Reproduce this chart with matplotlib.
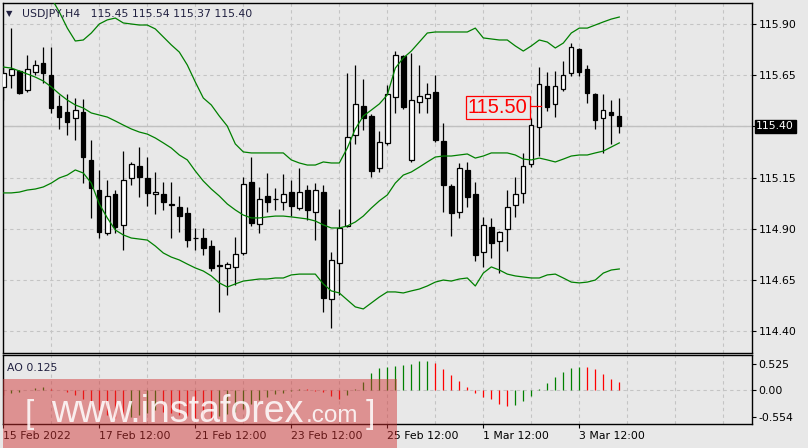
import matplotlib
matplotlib.use("Agg")
import matplotlib.pyplot as plt
import matplotlib.transforms as mtransforms
import numpy as np

# USDJPY H4 candles (open, high, low, close)
opens = np.array([115.593, 115.651, 115.671, 115.578, 115.666, 115.710, 115.651, 115.500, 115.471, 115.441,
                  115.471, 115.237, 115.090, 114.880, 115.071, 114.920, 115.149, 115.207, 115.149, 115.071,
                  115.071, 115.020, 115.007, 114.978, 114.858, 114.856, 114.817, 114.722, 114.710, 114.715,
                  114.783, 115.129, 114.924, 115.061, 115.048, 115.032, 115.080, 115.002, 115.090, 114.983,
                  115.080, 114.559, 114.734, 114.915, 115.359, 115.500, 115.451, 115.198, 115.320, 115.544,
                  115.744, 115.237, 115.520, 115.539, 115.568, 115.329, 115.110, 114.983, 115.188, 115.071,
                  114.788, 114.910, 114.841, 114.900, 115.017, 115.076, 115.217, 115.398, 115.598, 115.510,
                  115.583, 115.661, 115.778, 115.680, 115.559, 115.441, 115.471, 115.451])
highs = np.array([115.700, 115.880, 115.676, 115.749, 115.724, 115.788, 115.788, 115.554, 115.559, 115.539,
                  115.534, 115.334, 115.188, 115.139, 115.090, 115.280, 115.227, 115.300, 115.251, 115.178,
                  115.129, 115.129, 115.061, 115.007, 114.905, 114.905, 114.846, 114.798, 114.739, 114.861,
                  115.154, 115.251, 115.105, 115.173, 115.100, 115.168, 115.139, 115.198, 115.115, 115.124,
                  115.115, 114.788, 114.998, 115.661, 115.700, 115.632, 115.461, 115.378, 115.602, 115.768,
                  115.749, 115.759, 115.700, 115.612, 115.651, 115.417, 115.120, 115.222, 115.227, 115.129,
                  114.959, 114.954, 114.890, 115.090, 115.154, 115.271, 115.441, 115.690, 115.666, 115.671,
                  115.720, 115.807, 115.785, 115.700, 115.562, 115.559, 115.529, 115.539])
lows = np.array([115.529, 115.588, 115.559, 115.568, 115.651, 115.612, 115.466, 115.388, 115.359, 115.334,
                 115.124, 114.954, 114.856, 114.871, 114.880, 114.798, 115.115, 115.056, 115.012, 114.973,
                 114.993, 114.856, 114.885, 114.812, 114.798, 114.773, 114.695, 114.495, 114.578, 114.627,
                 114.773, 114.915, 114.880, 114.983, 114.993, 114.993, 114.963, 114.993, 114.944, 114.846,
                 114.495, 114.417, 114.578, 114.910, 115.315, 115.383, 115.154, 115.178, 115.310, 115.466,
                 115.485, 115.227, 115.466, 115.466, 115.324, 114.983, 114.866, 114.954, 115.007, 114.744,
                 114.715, 114.759, 114.685, 114.793, 114.959, 115.027, 115.202, 115.256, 115.476, 115.446,
                 115.573, 115.646, 115.646, 115.515, 115.388, 115.271, 115.315, 115.368])
closes = np.array([115.661, 115.680, 115.563, 115.680, 115.700, 115.661, 115.490, 115.446, 115.422, 115.480,
                   115.251, 115.100, 114.885, 115.061, 114.910, 115.139, 115.217, 115.154, 115.076, 115.080,
                   115.032, 115.015, 114.963, 114.846, 114.854, 114.807, 114.710, 114.718, 114.729, 114.778,
                   115.120, 114.929, 115.046, 115.032, 115.044, 115.071, 115.012, 115.080, 114.993, 115.090,
                   114.563, 114.749, 114.905, 115.349, 115.510, 115.441, 115.183, 115.324, 115.559, 115.749,
                   115.495, 115.529, 115.549, 115.559, 115.334, 115.115, 114.978, 115.198, 115.056, 114.773,
                   114.920, 114.832, 114.885, 115.007, 115.071, 115.207, 115.407, 115.607, 115.495, 115.598,
                   115.651, 115.788, 115.666, 115.563, 115.432, 115.480, 115.456, 115.400])

# Bollinger bands
bb_upper = np.array([116.212, 116.188, 116.163, 116.139, 116.115, 116.076, 116.027, 115.959, 115.880, 115.817,
                     115.822, 115.856, 115.900, 115.920, 115.929, 115.905, 115.900, 115.895, 115.895, 115.876,
                     115.837, 115.798, 115.763, 115.700, 115.617, 115.539, 115.505, 115.451, 115.402, 115.315,
                     115.276, 115.271, 115.271, 115.271, 115.271, 115.271, 115.237, 115.222, 115.212, 115.212,
                     115.227, 115.222, 115.222, 115.295, 115.388, 115.451, 115.480, 115.510, 115.554, 115.685,
                     115.734, 115.768, 115.812, 115.856, 115.861, 115.861, 115.861, 115.861, 115.861, 115.880,
                     115.832, 115.827, 115.822, 115.822, 115.793, 115.768, 115.793, 115.822, 115.812, 115.783,
                     115.807, 115.856, 115.880, 115.880, 115.895, 115.910, 115.924, 115.934])
bb_middle = np.array([115.690, 115.685, 115.671, 115.656, 115.641, 115.622, 115.593, 115.559, 115.529, 115.505,
                      115.490, 115.466, 115.456, 115.446, 115.427, 115.407, 115.388, 115.373, 115.363, 115.344,
                      115.320, 115.295, 115.261, 115.237, 115.183, 115.134, 115.095, 115.061, 115.022, 114.993,
                      114.968, 114.954, 114.954, 114.959, 114.963, 114.963, 114.959, 114.954, 114.949, 114.939,
                      114.920, 114.905, 114.905, 114.915, 114.934, 114.963, 115.002, 115.037, 115.066, 115.124,
                      115.163, 115.178, 115.202, 115.227, 115.251, 115.256, 115.256, 115.261, 115.266, 115.246,
                      115.256, 115.271, 115.271, 115.271, 115.261, 115.241, 115.237, 115.246, 115.237, 115.227,
                      115.241, 115.256, 115.261, 115.261, 115.271, 115.280, 115.300, 115.320])
bb_lower = np.array([115.076, 115.076, 115.080, 115.090, 115.095, 115.105, 115.124, 115.149, 115.163, 115.188,
                     115.173, 115.124, 115.022, 114.954, 114.895, 114.871, 114.856, 114.851, 114.846, 114.817,
                     114.783, 114.763, 114.749, 114.729, 114.710, 114.695, 114.671, 114.637, 114.617, 114.632,
                     114.646, 114.651, 114.656, 114.656, 114.661, 114.661, 114.676, 114.680, 114.680, 114.680,
                     114.632, 114.598, 114.588, 114.554, 114.520, 114.510, 114.539, 114.568, 114.593, 114.593,
                     114.588, 114.598, 114.607, 114.622, 114.641, 114.651, 114.646, 114.656, 114.661, 114.622,
                     114.685, 114.715, 114.700, 114.680, 114.671, 114.666, 114.661, 114.661, 114.676, 114.680,
                     114.661, 114.641, 114.637, 114.641, 114.651, 114.685, 114.700, 114.705])

# Awesome Oscillator
ao_values = np.array([-0.11, -0.07, -0.05, -0.01, 0.04, 0.05, 0.02, -0.01, -0.05, -0.11,
                      -0.20, -0.29, -0.41, -0.51, -0.59, -0.63, -0.56, -0.51, -0.48, -0.42,
                      -0.45, -0.48, -0.52, -0.55, -0.58, -0.60, -0.61, -0.55, -0.50, -0.45,
                      -0.40, -0.30, -0.22, -0.15, -0.10, -0.06, -0.03, 0.02, 0.01, -0.02,
                      -0.05, -0.14, -0.20, -0.12, 0.02, 0.16, 0.33, 0.44, 0.47, 0.48,
                      0.50, 0.525, 0.585, 0.59, 0.55, 0.42, 0.30, 0.18, 0.055, -0.07,
                      -0.145, -0.19, -0.295, -0.34, -0.31, -0.24, -0.14, 0.01, 0.14, 0.26,
                      0.355, 0.44, 0.465, 0.46, 0.42, 0.31, 0.21, 0.15])

price_ticks = [115.90, 115.65, 115.40, 115.15, 114.90, 114.65, 114.40]
ao_ticks = [0.525, 0.0, -0.554]
ao_tick_labels = ["0.525", "0.00", "-0.554"]
date_pos = [0, 12, 24, 36, 48, 60, 72]
date_labels = ["15 Feb 2022", "17 Feb 12:00", "21 Feb 12:00", "23 Feb 12:00",
               "25 Feb 12:00", "1 Mar 12:00", "3 Mar 12:00"]
last_price = 115.40
marked_price = 115.50

plt.rcParams['font.family'] = ['DejaVu Sans']
bg = '#e8e8e8'
grid_col = '#c4c4c4'
W, H = 808, 448

fig = plt.figure(figsize=(W / 100, H / 100), dpi=100, facecolor=bg)
ax = fig.add_axes([2.7 / W, 1 - 353 / H, 749 / W, 350 / H], facecolor=bg)
ax_ao = fig.add_axes([2.7 / W, 1 - 424 / H, 749 / W, 69 / H], facecolor=bg, sharex=ax)

x = np.arange(len(opens))
xmin, xmax = -0.075, 93.55

# grid
for a in (ax, ax_ao):
    for gx in range(6, 94, 6):
        a.axvline(gx, color=grid_col, lw=0.8, ls=(0, (3, 3)), zorder=0)
for p in price_ticks:
    ax.axhline(p, color=grid_col, lw=0.8, ls=(0, (3, 3)), zorder=0)
ax.axhline(last_price, color='#c0c0c0', lw=1, zorder=0)
ax_ao.axhline(0, color=grid_col, lw=0.8, ls=(0, (3, 3)), zorder=0)

# candles
up = closes >= opens
body_bot = np.minimum(opens, closes)
body_h = np.maximum(np.abs(closes - opens), 0.002)
ax.vlines(x, lows, highs, color='black', lw=0.9, zorder=2)
ax.bar(x[up], body_h[up], bottom=body_bot[up], width=0.55, color='white',
       edgecolor='black', lw=0.9, zorder=3)
ax.bar(x[~up], body_h[~up], bottom=body_bot[~up], width=0.55, color='black',
       edgecolor='black', lw=0.9, zorder=3)

# bands
for band in (bb_upper, bb_middle, bb_lower):
    ax.plot(x, band, color='#008000', lw=0.9, zorder=4)

ax.set_xlim(xmin, xmax)
ax.set_ylim(114.2951, 116.0024)
ax.yaxis.tick_right()
ax.set_yticks(price_ticks)
# the 115.40 slot is covered by the current-price box
ax.set_yticklabels(["" if p == last_price else f"{p:.2f}" for p in price_ticks])
ax.tick_params(axis='y', direction='out', length=3, width=0.8, pad=2, labelsize=7.8, colors='black')
ax.tick_params(axis='x', length=0, labelbottom=False)

# current price label
trans = mtransforms.blended_transform_factory(ax.transAxes, ax.transData)
ax.text(1.006, last_price, "115.40", transform=trans, ha='left', va='center', fontsize=7.8,
        color='white', bbox=dict(facecolor='black', edgecolor='black', pad=1.2), zorder=10)

# red price marker 115.50
ax.plot([65.7, 67.2], [marked_price, marked_price], color='red', lw=0.9, zorder=6)
ax.text(61.8, marked_price - 0.005, "115.50", ha='center', va='center', fontsize=14.5,
        family=['Liberation Sans', 'DejaVu Sans'], color='red', zorder=7,
        bbox=dict(facecolor=bg, edgecolor='red', lw=0.9, pad=1.5))

# AO histogram
ao_prev = np.concatenate([[ao_values[0] + 0.01], ao_values[:-1]])
ao_cols = np.where(ao_values > ao_prev, '#008000', '#ff0000')
ax_ao.vlines(x, 0, ao_values, colors=ao_cols, lw=0.9, zorder=2)
ax_ao.set_ylim(-0.704, 0.708)
ax_ao.yaxis.tick_right()
ax_ao.set_yticks(ao_ticks)
ax_ao.set_yticklabels(ao_tick_labels)
ax_ao.tick_params(axis='y', direction='out', length=3, width=0.8, pad=2, labelsize=7.8, colors='black')
ax_ao.set_xticks(date_pos)
ax_ao.set_xticklabels(date_labels, ha='left')
ax_ao.tick_params(axis='x', direction='out', length=3, width=0.8, pad=2, labelsize=7.8, colors='black')

for a in (ax, ax_ao):
    for s in a.spines.values():
        s.set_color('black')
        s.set_linewidth(1)

# header texts
fig.text(6 / W, 1 - 16.5 / H, "\u25bc", fontsize=6, color='#202040', va='baseline')
fig.text(21.7 / W, 1 - 16.7 / H, "USDJPY,H4   115.45 115.54 115.37 115.40", fontsize=7.8,
         color='#202040', va='baseline')
fig.text(7 / W, 1 - 371 / H, "AO 0.125", fontsize=7.8, color='#202040', va='baseline')

# watermark
fig.patches.append(plt.Rectangle((3 / W, 0), 394 / W, 69 / H, transform=fig.transFigure,
                                 facecolor='#d23232', alpha=0.48, edgecolor='none', zorder=20))
wm_font = ['Liberation Sans', 'DejaVu Sans']
fig.text(25 / W, 1 - 423 / H, "[", fontsize=24, family=wm_font, color='white', alpha=0.85,
         va='baseline', zorder=21)
fig.text(51 / W, 1 - 422 / H, "www.instaforex", fontsize=27, family=wm_font, color='white',
         alpha=0.85, va='baseline', zorder=21)
fig.text(306 / W, 1 - 422 / H, ".com", fontsize=17.5, family=wm_font, color='white', alpha=0.85,
         va='baseline', zorder=21)
fig.text(366 / W, 1 - 423 / H, "]", fontsize=24, family=wm_font, color='white', alpha=0.85,
         va='baseline', zorder=21)

fig.savefig("out.png", dpi=100, facecolor=bg)
